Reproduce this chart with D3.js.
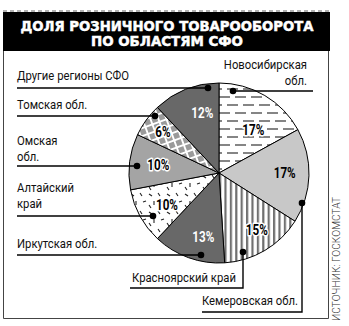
<!DOCTYPE html>
<html><head><meta charset="utf-8">
<script src="https://cdn.jsdelivr.net/npm/d3@7"></script>
<style>body{margin:0;background:#fff}svg{display:block}</style>
</head><body><svg id="c" width="349" height="326"></svg>
<script>
// ---- data ----
const regions = ["Новосибирская обл.","Кемеровская обл.","Красноярский край","Иркутская обл.","Алтайский край","Омская обл.","Томская обл.","Другие регионы СФО"];
const shares = [17,17,15,13,10,10,6,12];
const titleLines = ["ДОЛЯ РОЗНИЧНОГО ТОВАРООБОРОТА","ПО ОБЛАСТЯМ СФО"];
const labelLines = [["Новосибирская","обл."],["Кемеровская обл."],["Красноярский край"],["Иркутская обл."],["Алтайский","край"],["Омская","обл."],["Томская обл."],["Другие регионы СФО"]];
const sourceText = "ИСТОЧНИК: ГОСКОМСТАТ";

// ---- layout / style ----
const W = 349, H = 326, cx = 219, cy = 173, R = 90;
const fills = ["url(#hatchH)","#c8c8c8","url(#vstripe)","#686868","url(#dashes)","#a4a4a4","url(#check)","#686868"];
const pctColor = ["#000","#000","#000","#fff","#000","#000","#000","#fff"];
const pctHalo = [true,false,true,false,true,true,true,false];
const pctPos = [[8,0.61],[-2,0.73],[-3,0.76],[-6,0.73],[-3,0.68],[0,0.68],[0,0.77],[6,0.69]]; // [angle offset deg, radius factor]
const ann = [
  {x:307, anchor:"end", ys:[69,85], pts:[[233,91],[313,91]], dot:0},
  {x:202, anchor:"start", ys:[305], pts:[[302,203],[302,312],[202,312]], dot:0},
  {x:132, anchor:"start", ys:[282], pts:[[243,252],[243,288],[130,288]], dot:0},
  {x:17, anchor:"start", ys:[248], pts:[[17,255],[201,255]], dot:1},
  {x:17, anchor:"start", ys:[192,208], pts:[[17,216],[153,216]], dot:1},
  {x:17, anchor:"start", ys:[145,161], pts:[[17,166],[137,166]], dot:1},
  {x:17, anchor:"start", ys:[109], pts:[[17,116],[155,116]], dot:1},
  {x:17, anchor:"start", ys:[80], pts:[[17,88],[208,88]], dot:1}
];
const FONT = "Roboto,'Liberation Sans',sans-serif";
const LABEL_SIZE = 12.5, PCT_SIZE = 14;

const svg = d3.select("#c");
const defs = svg.append("defs");

function measure(txt, size, weight){
  const t = svg.append("text").attr("font-family",FONT).attr("font-size",size).attr("font-weight",weight).text(txt);
  const w = t.node().getComputedTextLength(); t.remove(); return w;
}
const kLabel = 104 / measure("Красноярский край", LABEL_SIZE, "normal");
const kPct = 22 / measure("17%", PCT_SIZE, "bold");

// horizontal dashes pattern
const p1 = defs.append("pattern").attr("id","hatchH").attr("patternUnits","userSpaceOnUse").attr("width",16).attr("height",16);
p1.append("rect").attr("width",16).attr("height",16).attr("fill","#fff");
[[0,4,11,4],[8,12,16,12],[0,12,3,12]].forEach(l=>p1.append("line").attr("x1",l[0]).attr("y1",l[1]).attr("x2",l[2]).attr("y2",l[3]).attr("stroke","#777").attr("stroke-width",1.8));
// vertical stripes
const p2 = defs.append("pattern").attr("id","vstripe").attr("patternUnits","userSpaceOnUse").attr("width",5.4).attr("height",10);
p2.append("rect").attr("width",5.4).attr("height",10).attr("fill","#fff");
p2.append("rect").attr("x",0).attr("width",2.2).attr("height",10).attr("fill","#707070");
// small dashes
const p3 = defs.append("pattern").attr("id","dashes").attr("patternUnits","userSpaceOnUse").attr("width",18).attr("height",18);
p3.append("rect").attr("width",18).attr("height",18).attr("fill","#fff");
[[2,3,5,5],[11,2,13,5],[7,10,7,14],[14,11,17,10],[2,14,4,17]].forEach(l=>p3.append("line").attr("x1",l[0]).attr("y1",l[1]).attr("x2",l[2]).attr("y2",l[3]).attr("stroke","#222").attr("stroke-width",1.1));
// checks
const p4 = defs.append("pattern").attr("id","check").attr("patternUnits","userSpaceOnUse").attr("width",7.5).attr("height",7.5).attr("patternTransform","rotate(-20)");
p4.append("rect").attr("width",7.5).attr("height",7.5).attr("fill","#fff");
p4.append("rect").attr("width",5.6).attr("height",5.6).attr("fill","#9a9a9a");

// title bar
svg.append("line").attr("x1",3).attr("x2",330).attr("y1",11).attr("y2",11).attr("stroke","#999").attr("stroke-width",1.5).attr("stroke-dasharray","4,3");
svg.append("rect").attr("x",3).attr("y",12).attr("width",327).attr("height",39).attr("fill","#000");
const tl = [[30.5,293],[45.5,152]];
titleLines.forEach((t,i)=>svg.append("text").attr("x",167).attr("y",tl[i][0]).attr("text-anchor","middle")
  .attr("font-family","'DejaVu Sans',sans-serif").attr("font-weight","bold").attr("font-size",13.5)
  .attr("fill","#fff").attr("stroke","#fff").attr("stroke-width",0.5)
  .attr("textLength",tl[i][1]).attr("lengthAdjust","spacingAndGlyphs").text(t));

// frame
svg.append("path").attr("d","M3.5,51V318.5H328.5V51").attr("fill","none").attr("stroke","#444").attr("stroke-width",1);

// pie
const pie = d3.pie().sort(null).value(d=>d).startAngle(0).endAngle(2*Math.PI);
const arcs = pie(shares);
const arc = d3.arc().innerRadius(0).outerRadius(R);
const g = svg.append("g").attr("transform",`translate(${cx},${cy})`);
g.selectAll("path.s").data(arcs).join("path").attr("class","s").attr("d",arc)
  .attr("fill",(d,i)=>fills[i]).attr("stroke","#000").attr("stroke-width",1);

// leaders + labels
ann.forEach((a,i)=>{
  svg.append("path").attr("d",d3.line()(a.pts)).attr("fill","none").attr("stroke","#000").attr("stroke-width",1.4);
  const dp = a.pts[a.dot];
  svg.append("circle").attr("cx",dp[0]).attr("cy",dp[1]).attr("r",3.3).attr("fill","#000");
  labelLines[i].forEach((t,j)=>svg.append("text")
    .attr("transform",`translate(${a.x},${a.ys[j]}) scale(${kLabel},1)`).attr("text-anchor",a.anchor)
    .attr("font-family",FONT).attr("font-size",LABEL_SIZE).attr("fill","#111").text(t));
});

// percent labels
arcs.forEach((d,i)=>{
  const ang = (d.startAngle+d.endAngle)/2 + pctPos[i][0]*Math.PI/180;
  const r = R*pctPos[i][1];
  const x = cx + r*Math.sin(ang), y = cy - r*Math.cos(ang);
  const t = svg.append("text").attr("transform",`translate(${x},${y}) scale(${kPct},1)`)
    .attr("dy","0.36em").attr("text-anchor","middle")
    .attr("font-family",FONT).attr("font-weight","bold").attr("font-size",PCT_SIZE)
    .attr("fill",pctColor[i]).text(shares[i]+"%");
  if(pctHalo[i]) t.attr("stroke","#fff").attr("stroke-width",3).attr("paint-order","stroke").attr("stroke-linejoin","round");
});

// source
svg.append("text").attr("transform","translate(340,321) rotate(-90)").attr("text-anchor","start")
  .attr("font-family",FONT).attr("font-weight",300).attr("font-size",11).attr("fill","#333")
  .attr("textLength",124).attr("lengthAdjust","spacingAndGlyphs").text(sourceText);
</script></body></html>
